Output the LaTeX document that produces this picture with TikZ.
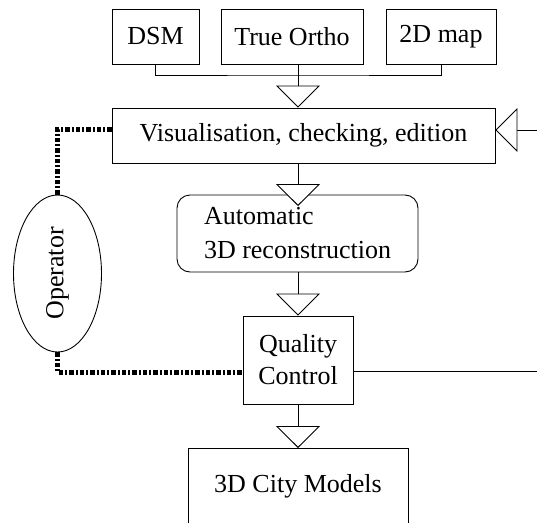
\documentclass[tikz,border=0pt]{standalone}
\usepackage{fontspec}
\setmainfont{Liberation Serif}
\usetikzlibrary{arrows.meta,shapes.geometric}
\begin{document}
\begin{tikzpicture}[x=1pt,y=-1pt,
  box/.style={draw,line width=0.9pt,inner sep=0pt,font=\fontsize{26}{32}\selectfont},
  link/.style={line width=0.9pt},
  tri/.style={link,-{Triangle[width=44pt,length=22pt,fill=white]}},
  opline/.style={line width=5pt,dash pattern=on 4.5pt off 2pt on 2pt off 2pt}]
\useasboundingbox (0,0) rectangle (537,522);
\clip (0,0) rectangle (537,522);

\node[box,minimum width=87pt,minimum height=55pt] (dsm) at (155.5,36.5) {DSM};
\node[box,minimum width=142pt,minimum height=55pt] (ortho) at (292,36.5) {True Ortho};
\node[box,minimum width=110pt,minimum height=55pt] (map) at (441,36.5) {2D map};
\node[box,minimum width=383pt,minimum height=55pt] (vis) at (303.5,135.5) {Visualisation, checking, edition};
\node[box,rounded corners=13pt,minimum width=241pt,minimum height=77pt,align=left,font=\fontsize{26}{34}\selectfont] (auto) at (297.5,233.5) {Automatic\\3D reconstruction};
\node[box,minimum width=110pt,minimum height=88pt,align=center] (qc) at (298,360) {Quality\\Control};
\node[box,minimum width=220pt,anchor=north,text height=44pt,text depth=40pt] (city) at (298,448) {3D City Models};
\node[draw,ellipse,line width=0.9pt,minimum width=88pt,minimum height=157pt,inner sep=0pt,font=\fontsize{26}{32}\selectfont] (op) at (57.5,273.5) {\rotatebox{90}{Operator}};

\coordinate (bus) at (298,75);
\coordinate (autoin) at (298,206);
\coordinate (rin) at (537,130);
\coordinate (rout) at (537,371);
\coordinate (opa) at (57.5,129);
\coordinate (opb) at (57.5,372);

\draw[link] (dsm.south) |- (bus) -| (map.south);
\draw[tri] (ortho.south -| bus) -- (vis.north -| bus);
\draw[tri] (vis.south -| bus) -- (autoin);
\draw[tri] (auto.south -| bus) -- (qc.north);
\draw[tri] (qc.south) -- (city.north);
\draw[tri] (rin) -- (vis.east |- rin);
\draw[link] (qc.east |- rout) -- (rout);
\draw[opline] (vis.west |- opa) -- (opa) -- (op.north);
\draw[opline] (op.south) -- (opb) -- (qc.west |- opb);
\end{tikzpicture}
\end{document}
